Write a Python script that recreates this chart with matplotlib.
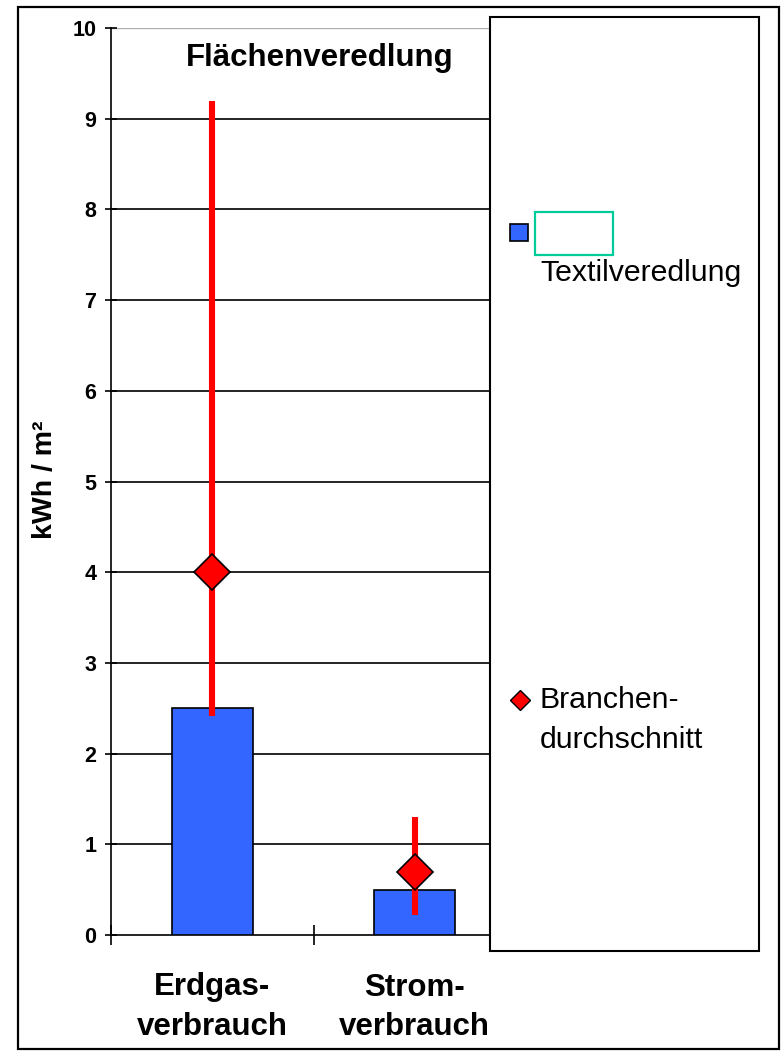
import matplotlib
matplotlib.use("Agg")
import matplotlib.pyplot as plt
from matplotlib.patches import Rectangle
from matplotlib.lines import Line2D

# Data
categories = ["Erdgas-\nverbrauch", "Strom-\nverbrauch"]
textil_values = [2.5, 0.5]          # kWh / m², Textilveredlung
branchen_mean = [4.0, 0.7]          # Branchendurchschnitt
range_low = [2.42, 0.22]
range_high = [9.2, 1.3]
y_ticks = list(range(0, 11))

BLUE = "#3366FF"
RED = "#FF0000"
TEAL = "#00CC99"

W, H = 784, 1052
fig = plt.figure(figsize=(W / 100, H / 100), dpi=100)
plt.rcParams["font.family"] = ["Liberation Sans", "DejaVu Sans"]


def fx(px):
    return px / W


def fy(py):
    return 1 - py / H


# outer frame
fig.patches.append(Rectangle((fx(18), fy(1049)), fx(779) - fx(18), fy(7) - fy(1049),
                             transform=fig.transFigure, fill=False, ec="black", lw=1.6))

ax = fig.add_axes([fx(111), fy(935), (516 - 111) / W, (935 - 28) / H])
x = list(range(len(categories)))

ax.bar(x, textil_values, width=0.4, color=BLUE, edgecolor="black", linewidth=1.2, zorder=3)
ax.vlines(x, range_low, range_high, color=RED, linewidth=4.4, zorder=4)
ax.plot(x, branchen_mean, linestyle="none", marker="D", markersize=18,
        markerfacecolor=RED, markeredgecolor="black", markeredgewidth=1.2, zorder=5)

ax.set_xlim(-0.5, 1.5)
ax.set_ylim(0, 10)
ax.set_yticks(y_ticks)
ax.set_yticklabels([str(t) for t in y_ticks], fontsize=15.5, fontweight="bold")
for t in y_ticks[1:-1]:
    ax.axhline(t, color="black", linewidth=1.2, zorder=1)
ax.axhline(10, color="#B0B0B0", linewidth=1.0, zorder=1)

ax.set_xticks(x)
ax.set_xticklabels(categories, fontsize=22.5, fontweight="bold", linespacing=1.4)
ax.set_xticks([-0.5, 0.5, 1.5], minor=True)
ax.tick_params(axis="x", which="major", length=0, pad=27)
ax.tick_params(axis="x", which="minor", direction="inout", length=14, width=1.2)
ax.tick_params(axis="y", direction="inout", length=9, width=1.2, pad=6)

for side in ["top", "right"]:
    ax.spines[side].set_visible(False)
ax.spines["left"].set_linewidth(1.2)
ax.spines["bottom"].set_linewidth(1.2)

fig.text(fx(45), fy(480), "kWh / m²", fontsize=20.5, fontweight="bold",
         rotation=90, ha="center", va="center")

fig.text(fx(320), fy(58), "Flächenveredlung", fontsize=22.5, fontweight="bold",
         ha="center", va="center")

# legend panel
fig.patches.append(Rectangle((fx(490), fy(951)), fx(759) - fx(490), fy(17) - fy(951),
                             transform=fig.transFigure, facecolor="white", ec="black",
                             lw=1.5, zorder=10))
fig.patches.append(Rectangle((fx(510), fy(241)), fx(528) - fx(510), fy(224) - fy(241),
                             transform=fig.transFigure, facecolor=BLUE, ec="black",
                             lw=1.2, zorder=11))
fig.patches.append(Rectangle((fx(535), fy(255)), fx(613) - fx(535), fy(212) - fy(255),
                             transform=fig.transFigure, facecolor="none", ec=TEAL,
                             lw=1.6, zorder=11))
fig.text(fx(540), fy(273), "Textilveredlung", fontsize=21.8, ha="left", va="center", zorder=12)
fig.lines.append(Line2D([fx(520)], [fy(700)], transform=fig.transFigure, marker="D",
                        markersize=10, markerfacecolor=RED, markeredgecolor="black",
                        markeredgewidth=1.0, linestyle="none", zorder=12))
fig.text(fx(540), fy(700), "Branchen-", fontsize=21.8, ha="left", va="center", zorder=12)
fig.text(fx(540), fy(740), "durchschnitt", fontsize=21.8, ha="left", va="center", zorder=12)

fig.savefig("out.png", dpi=100)
